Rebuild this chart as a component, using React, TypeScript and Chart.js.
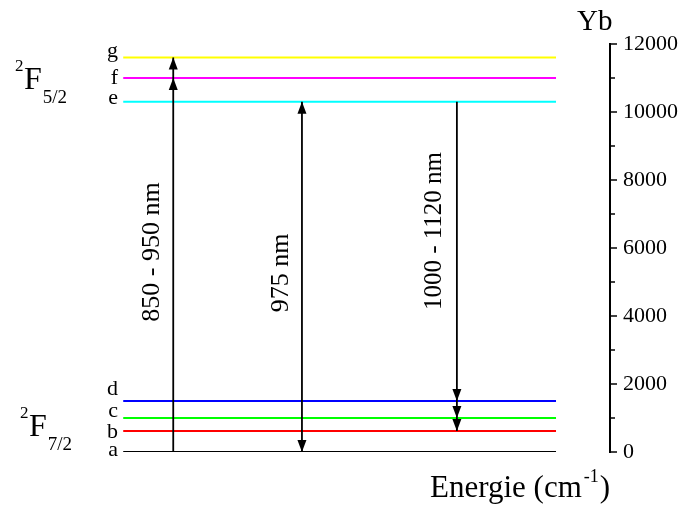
import React, { useEffect, useRef } from 'react';
import { Chart, registerables } from 'chart.js';

Chart.register(...registerables);

// ---- data ----
const levelNames = ['a', 'b', 'c', 'd', 'e', 'f', 'g'];
const levelEnergies = [0, 620, 1000, 1500, 10300, 11000, 11600];
const levelColors = ['#000000', '#ff0000', '#00ff00', '#0000ff', '#00ffff', '#ff00ff', '#ffff00'];
const yMin = 0;
const yMax = 12000;
const yMajorStep = 2000;
const yMinorStep = 1000;

const transitionLabels = ['850 - 950 nm', '975 nm', '1000 - 1120 nm'];
const transitionFrom = [0, 0, 4];
const transitionTo = [[5, 6], [4], [3, 2, 1]];
const transitionBothEnds = [false, true, false];

const termNames = ['F', 'F'];
const termSup = ['2', '2'];
const termSub = ['5/2', '7/2'];
const termLevels = [[4, 5, 6], [0, 1, 2, 3]];

const axisTitleTop = 'Yb';
const axisTitleBottom = 'Energie (cm';
const axisTitleSup = '-1';

// ---- layout (x in 0..100 chart units) ----
const LINE_X0 = 20.2;
const LINE_X1 = 91.15;
const LETTER_X = 19.35;
const LETTER_DY = [-2, 1, -7, -12, -4, 0, -6];
const ARROW_X = [28.4, 49.5, 74.9];
const LABEL_DX = [-21, -21, -22];
const LABEL_Y = [252, 273, 231];
const TERM_X = [24, 29];
const Y_AXIS_WIDTH = 68;

const SERIF = '"Liberation Serif", "Times New Roman", serif';

function drawHead(ctx: CanvasRenderingContext2D, x: number, tipY: number, dir: number) {
  const w = 4.5;
  const len = 12;
  ctx.beginPath();
  ctx.moveTo(x, tipY);
  ctx.lineTo(x - w, tipY - dir * len);
  ctx.lineTo(x + w, tipY - dir * len);
  ctx.closePath();
  ctx.fill();
}

const overlayPlugin = {
  id: 'overlay',
  afterDraw(chart: any) {
    const { ctx } = chart;
    const xs = chart.scales.x;
    const ys = chart.scales.y;
    ctx.save();
    ctx.fillStyle = '#000';
    ctx.strokeStyle = '#000';

    // y axis ticks (major + minor), pointing outwards
    const axX = ys.left;
    ctx.lineWidth = 1.5;
    for (let v = yMin; v <= yMax; v += yMinorStep) {
      const py = ys.getPixelForValue(v);
      const len = v % yMajorStep === 0 ? 7 : 5;
      ctx.beginPath();
      ctx.moveTo(axX, py);
      ctx.lineTo(axX + len, py);
      ctx.stroke();
    }

    // level letters
    ctx.font = `22px ${SERIF}`;
    ctx.textAlign = 'right';
    ctx.textBaseline = 'middle';
    levelNames.forEach((n, i) => {
      ctx.fillText(n, xs.getPixelForValue(LETTER_X), ys.getPixelForValue(levelEnergies[i]) + LETTER_DY[i]);
    });

    // arrows
    ctx.lineWidth = 1.8;
    transitionLabels.forEach((label, i) => {
      const px = xs.getPixelForValue(ARROW_X[i]);
      const from = transitionFrom[i];
      const tos = transitionTo[i];
      const all = [from, ...tos].map((k) => levelEnergies[k]);
      const top = ys.getPixelForValue(Math.max(...all));
      const bot = ys.getPixelForValue(Math.min(...all));
      ctx.beginPath();
      ctx.moveTo(px, top);
      ctx.lineTo(px, bot);
      ctx.stroke();
      const fromPx = ys.getPixelForValue(levelEnergies[from]);
      tos.forEach((k) => {
        const tp = ys.getPixelForValue(levelEnergies[k]);
        drawHead(ctx, px, tp, tp > fromPx ? 1 : -1);
      });
      if (transitionBothEnds[i]) {
        const other = ys.getPixelForValue(levelEnergies[tos[0]]);
        drawHead(ctx, px, fromPx, fromPx > other ? 1 : -1);
      }
      // rotated label
      ctx.save();
      ctx.translate(px + LABEL_DX[i], LABEL_Y[i]);
      ctx.rotate(-Math.PI / 2);
      ctx.font = `${i === 2 ? 25 : 26}px ${SERIF}`;
      ctx.textAlign = 'center';
      ctx.textBaseline = 'middle';
      ctx.fillText(label, 0, 0);
      ctx.restore();
    });

    // term symbols
    termNames.forEach((name, i) => {
      const es = termLevels[i].map((k) => levelEnergies[k]);
      const mid = (ys.getPixelForValue(Math.max(...es)) + ys.getPixelForValue(Math.min(...es))) / 2;
      const base = mid + 9;
      const x0 = TERM_X[i];
      ctx.textAlign = 'left';
      ctx.textBaseline = 'alphabetic';
      ctx.font = `17px ${SERIF}`;
      ctx.fillText(termSup[i], x0 - 9, base - 18);
      ctx.font = `32px ${SERIF}`;
      ctx.fillText(name, x0, base);
      const fw = ctx.measureText(name).width;
      ctx.font = `19px ${SERIF}`;
      ctx.fillText(termSub[i], x0 + fw + 1, base + 14);
    });

    // titles
    ctx.textAlign = 'left';
    ctx.textBaseline = 'alphabetic';
    ctx.font = `29px ${SERIF}`;
    ctx.fillText(axisTitleTop, 577, 30);
    const bx = 430;
    const by = 497;
    ctx.font = `31px ${SERIF}`;
    ctx.fillText(axisTitleBottom, bx, by);
    const w = ctx.measureText(axisTitleBottom).width;
    ctx.font = `18px ${SERIF}`;
    ctx.fillText(axisTitleSup, bx + w + 2, by - 15);
    const sw = ctx.measureText(axisTitleSup).width;
    ctx.font = `31px ${SERIF}`;
    ctx.fillText(')', bx + w + 2 + sw + 1, by);

    ctx.restore();
  },
};

export default function App() {
  const canvasRef = useRef<HTMLCanvasElement | null>(null);

  useEffect(() => {
    const canvas = canvasRef.current;
    if (!canvas) return;
    const datasets = levelNames.map((n, i) => ({
      label: n,
      data: [
        { x: LINE_X0, y: levelEnergies[i] },
        { x: LINE_X1, y: levelEnergies[i] },
      ],
      borderColor: levelColors[i],
      backgroundColor: levelColors[i],
      borderWidth: 2,
      pointRadius: 0,
      fill: false,
    }));
    const chart = new Chart(canvas, {
      type: 'line',
      data: { datasets },
      options: {
        responsive: false,
        animation: false,
        layout: { padding: { left: 0, right: 8, top: 44, bottom: 57 } },
        plugins: { legend: { display: false }, tooltip: { enabled: false } },
        scales: {
          x: { type: 'linear', min: 0, max: 100, display: false },
          y: {
            type: 'linear',
            position: 'right',
            min: yMin,
            max: yMax,
            afterFit: (scale: any) => {
              scale.width = Y_AXIS_WIDTH;
            },
            ticks: {
              stepSize: yMajorStep,
              color: '#000',
              padding: 13,
              font: { family: SERIF, size: 22 },
              callback: (v: any) => String(v),
            },
            grid: { display: false, drawTicks: false },
            border: { display: true, color: '#000', width: 2 },
          },
        },
      },
      plugins: [overlayPlugin],
    });
    return () => chart.destroy();
  }, []);

  return (
    <div style={{ position: 'fixed', left: 0, top: 0, width: 686, height: 509, background: '#fff' }}>
      <canvas ref={canvasRef} width={686} height={509} />
    </div>
  );
}
